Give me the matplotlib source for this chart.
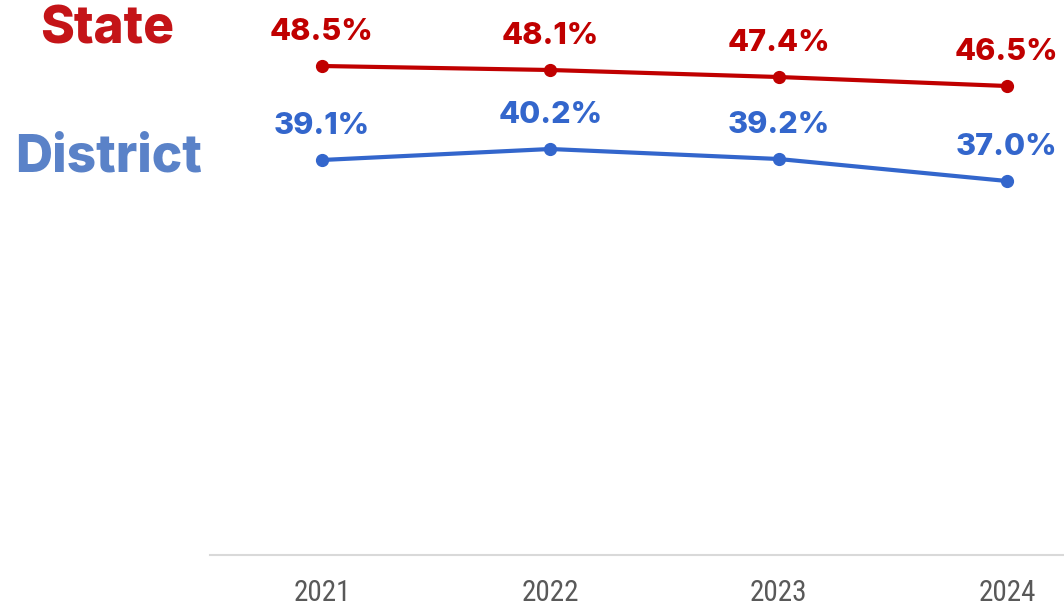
import matplotlib
matplotlib.use("Agg")
import matplotlib.pyplot as plt

years = ["2021", "2022", "2023", "2024"]
state = [48.5, 48.1, 47.4, 46.5]
district = [39.1, 40.2, 39.2, 37.0]

W, H = 1064, 609
fig = plt.figure(figsize=(W / 100, H / 100), dpi=100)
ax = fig.add_axes([210 / W, (H - 555) / H, (W - 210) / W, 555 / H])

red = "#C00000"
blue = "#3366CC"
x = list(range(len(years)))

ax.plot(x, state, color=red, lw=3, marker="o", ms=8.5, solid_capstyle="round")
ax.plot(x, district, color=blue, lw=3, marker="o", ms=8.5, solid_capstyle="round")

lab_font = ["Inter", "DejaVu Sans"]
for xi, v in zip(x, state):
    ax.annotate(f"{v:.1f}%", (xi, v), xytext=(0, 18.5), textcoords="offset points",
                ha="center", va="baseline", color=red, fontsize=22,
                fontweight="heavy", family=lab_font)
for xi, v in zip(x, district):
    ax.annotate(f"{v:.1f}%", (xi, v), xytext=(0, 18.5), textcoords="offset points",
                ha="center", va="baseline", color=blue, fontsize=22,
                fontweight="heavy", family=lab_font)

ax.set_xlim(-0.49, 3.25)
ax.set_ylim(-0.4, 55.1)
ax.set_xticks(x)
ax.set_xticklabels(years, fontsize=21, color="#595959",
                   family=["Roboto Condensed", "Liberation Sans Narrow", "DejaVu Sans"],
                   fontstretch="condensed")
ax.tick_params(axis="x", length=0, pad=17)
ax.set_yticks([])
for s in ["top", "right", "left"]:
    ax.spines[s].set_visible(False)
ax.spines["bottom"].set_color("#D9D9D9")
ax.spines["bottom"].set_linewidth(1.5)

fig.text(107 / W, 1 - 44 / H, "State", ha="center", va="baseline",
         color="#C41418", fontsize=37, fontweight="heavy", family=lab_font)
fig.text(109 / W, 1 - 172 / H, "District", ha="center", va="baseline",
         color="#5A82C8", fontsize=37, fontweight="heavy", family=lab_font)

fig.savefig("out.png", dpi=100)
